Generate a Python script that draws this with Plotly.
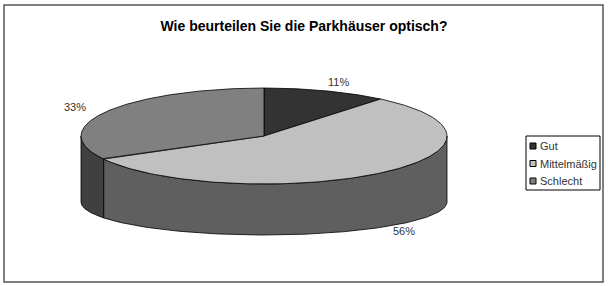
import numpy as np
import plotly.graph_objects as go

# ---- data ----
categories = ["Gut", "Mittelmäßig", "Schlecht"]
values = [11, 56, 33]
title_text = "Wie beurteilen Sie die Parkhäuser optisch?"

# ---- style ----
top_colors = ["#333333", "#c0c0c0", "#808080"]
side_colors = ["#1f1f1f", "#5f5f5f", "#404040"]
W, H = 608, 286
cx, cy = 264, 136          # top ellipse centre (px)
rx, ry = 183, 48           # top ellipse radii
bcy, bry = 202, 33         # bottom ellipse centre y / radius y
FONT = "Liberation Sans, Arial, sans-serif"

# legend box geometry (px)
LEG_X0, LEG_X1, LEG_Y0, LEG_Y1 = 526, 600, 136, 190
LEG_ROW0, LEG_ROW_STEP = 146, 17.5


def top_pt(t):
    return cx + rx * np.sin(t), cy - ry * np.cos(t)


def bot_pt(t):
    return cx + rx * np.sin(t), bcy - bry * np.cos(t)


total = float(sum(values))
fracs = [v / total for v in values]
starts = np.concatenate([[0.0], np.cumsum(fracs)[:-1]]) * 2 * np.pi
ends = np.cumsum(fracs) * 2 * np.pi

fig = go.Figure()

# side walls (front half only: pi/2 .. 3pi/2)
for i in range(len(values)):
    s = max(starts[i], np.pi / 2)
    e = min(ends[i], 3 * np.pi / 2)
    if e <= s:
        continue
    t = np.linspace(s, e, 120)
    tx, ty = top_pt(t)
    bx, by = bot_pt(t[::-1])
    xs = np.concatenate([tx, bx, tx[:1]])
    ys = np.concatenate([ty, by, ty[:1]])
    fig.add_trace(go.Scatter(x=xs, y=ys, mode="lines", fill="toself",
                             fillcolor=side_colors[i],
                             line=dict(color="#000000", width=0.8),
                             hoverinfo="skip", showlegend=False))

# top faces
for i in range(len(values)):
    t = np.linspace(starts[i], ends[i], 200)
    tx, ty = top_pt(t)
    xs = np.concatenate([[cx], tx, [cx]])
    ys = np.concatenate([[cy], ty, [cy]])
    fig.add_trace(go.Scatter(x=xs, y=ys, mode="lines", fill="toself",
                             fillcolor=top_colors[i],
                             line=dict(color="#000000", width=0.8),
                             name=categories[i],
                             hoverinfo="skip", showlegend=False))

# percentage labels
depth_front = (bcy + bry) - (cy + ry)
for i, v in enumerate(values):
    m = (starts[i] + ends[i]) / 2
    lx = cx + rx * 1.2 * np.sin(m)
    ly = cy - ry * 1.2 * np.cos(m)
    if np.cos(m) < 0:
        ly += depth_front
    fig.add_annotation(x=lx, y=ly, text=f"{v}%", showarrow=False,
                       font=dict(family=FONT, size=11, color="#333333"))

# legend (box, colour squares, labels)
shapes = [dict(type="rect", xref="paper", yref="paper",
               x0=4 / W, x1=603 / W, y0=1 - 282 / H, y1=1 - 5 / H,
               line=dict(color="#555555", width=1.5)),
          dict(type="rect", xref="x", yref="y",
               x0=LEG_X0, x1=LEG_X1, y0=LEG_Y0, y1=LEG_Y1,
               line=dict(color="#000000", width=1), fillcolor="white")]
for i, c in enumerate(categories):
    yc = LEG_ROW0 + i * LEG_ROW_STEP
    shapes.append(dict(type="rect", xref="x", yref="y",
                       x0=LEG_X0 + 4, x1=LEG_X0 + 10, y0=yc - 3, y1=yc + 3,
                       line=dict(color="#000000", width=1),
                       fillcolor=top_colors[i]))
    fig.add_annotation(x=LEG_X0 + 12, y=yc, text=c, showarrow=False,
                       xanchor="left", yanchor="middle",
                       font=dict(family=FONT, size=11, color="#333333"))

fig.update_layout(
    width=W, height=H,
    margin=dict(l=0, r=0, t=0, b=0),
    paper_bgcolor="white", plot_bgcolor="white",
    showlegend=False,
    xaxis=dict(range=[0, W], visible=False, fixedrange=True),
    yaxis=dict(range=[H, 0], visible=False, fixedrange=True),
    title=dict(text=f"<b>{title_text}</b>", x=0.5, xanchor="center",
               y=1 - 26 / H, yanchor="middle",
               font=dict(family=FONT, size=14, color="#000000")),
    shapes=shapes,
)

fig.write_html("out.html")
